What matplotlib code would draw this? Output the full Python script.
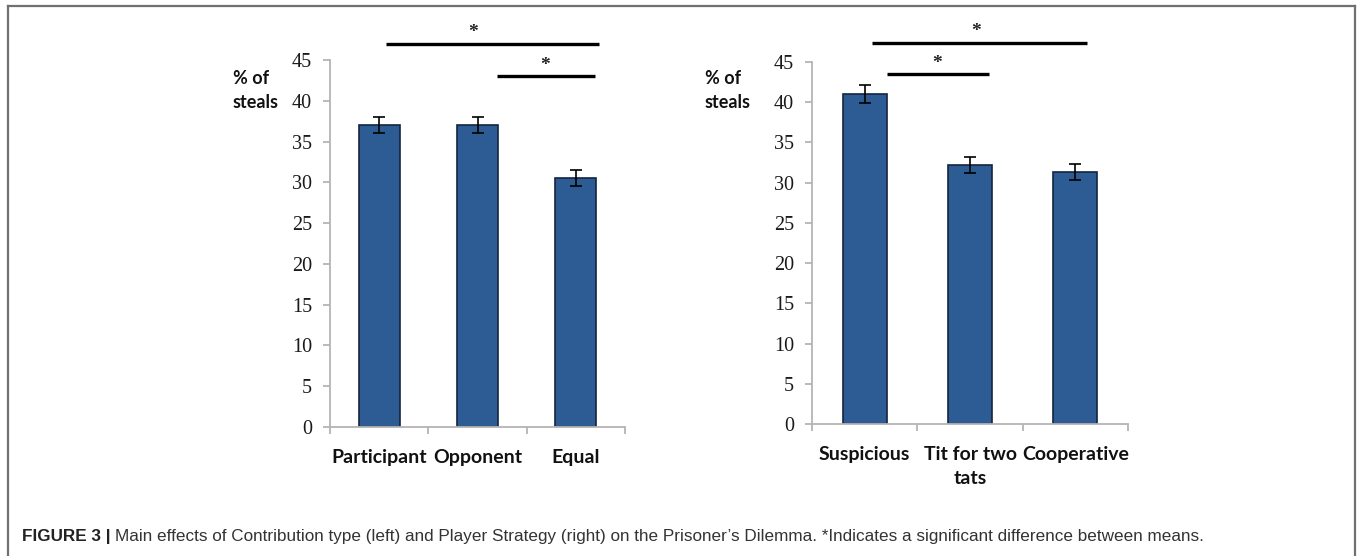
import matplotlib.pyplot as plt
from matplotlib.lines import Line2D

# Left panel: contribution type
left_cats = ['Participant', 'Opponent', 'Equal']
left_vals = [37.0, 37.0, 30.5]
left_err = [1.0, 1.0, 1.0]
# significance bars: (x start, x end, height, star x)
left_sig_x0 = [0.07, 1.20]
left_sig_x1 = [2.24, 2.19]
left_sig_y = [47.0, 43.0]
left_star_x = [0.95, 1.69]

# Right panel: player strategy
right_cats = ['Suspicious', 'Tit for two\ntats', 'Cooperative']
right_vals = [41.0, 32.2, 31.3]
right_err = [1.1, 1.0, 1.0]
right_sig_x0 = [0.07, 0.21]
right_sig_x1 = [2.11, 1.18]
right_sig_y = [47.4, 43.5]
right_star_x = [1.06, 0.69]

yticks = [0, 5, 10, 15, 20, 25, 30, 35, 40, 45]

W, H = 1360, 556
BAR = '#2d5b93'
EDGE = '#14243d'
AXC = '#b4b4b4'


def draw_panel(ax, cats, vals, errs, sx0, sx1, sy, starx):
    x = list(range(len(cats)))
    ax.bar(x, vals, width=0.42, color=BAR, edgecolor=EDGE, linewidth=1.2, zorder=2)
    ax.errorbar(x, vals, yerr=errs, fmt='none', ecolor='black', elinewidth=1.2,
                capsize=4, capthick=1.2, zorder=3)
    ax.set_xlim(-0.5, len(cats) - 0.5)
    ax.set_ylim(0, 45)
    ax.set_yticks(yticks)
    ax.set_xticks(x)
    ax.set_xticklabels(cats, fontfamily='Lato', fontweight='bold', fontsize=14,
                       color='#111111', linespacing=1.5)
    ax.set_xticks([i - 0.5 for i in range(len(cats) + 1)], minor=True)
    ax.tick_params(axis='x', which='major', length=0, pad=16)
    ax.tick_params(axis='x', which='minor', length=5, color=AXC, width=1.3)
    ax.tick_params(axis='y', length=5, color=AXC, width=1.3, pad=8,
                   labelsize=14.5, labelcolor='#1a1a1a')
    for lab in ax.get_yticklabels():
        lab.set_fontfamily('Liberation Serif')
    for s in ['top', 'right']:
        ax.spines[s].set_visible(False)
    for s in ['left', 'bottom']:
        ax.spines[s].set_color(AXC)
        ax.spines[s].set_linewidth(1.3)
    for a, b, y, st in zip(sx0, sx1, sy, starx):
        ax.plot([a, b], [y, y], color='black', lw=2.4, clip_on=False,
                solid_capstyle='butt')
        ax.text(st, y + 0.3, '*', ha='center', va='bottom', fontsize=14,
                fontweight='bold', fontfamily='Liberation Serif', color='#222222',
                clip_on=False)


fig = plt.figure(figsize=(W / 100, H / 100), dpi=100)
fig.patch.set_facecolor('white')

ax1 = fig.add_axes([330 / W, 1 - 427 / H, 295 / W, 367 / H])
ax2 = fig.add_axes([812 / W, 1 - 424 / H, 316 / W, 362 / H])

draw_panel(ax1, left_cats, left_vals, left_err,
           left_sig_x0, left_sig_x1, left_sig_y, left_star_x)
draw_panel(ax2, right_cats, right_vals, right_err,
           right_sig_x0, right_sig_x1, right_sig_y, right_star_x)

# y labels
for px in [233, 705]:
    fig.text(px / W, 1 - 90 / H, '% of\nsteals', ha='left', va='center',
             fontfamily='Lato', fontweight='bold', fontsize=13, color='#111111',
             linespacing=1.5)

# frame around the figure
fc = '#707070'
fig.add_artist(Line2D([8 / W, 8 / W], [0, 1 - 6 / H], color=fc, lw=1.6))
fig.add_artist(Line2D([1355 / W, 1355 / W], [0, 1 - 6 / H], color=fc, lw=1.6))
fig.add_artist(Line2D([8 / W, 1355 / W], [1 - 6 / H, 1 - 6 / H], color=fc, lw=1.6))

# caption
cy = 1 - 537 / H
t = fig.text(22 / W, cy, 'FIGURE 3 |', ha='left', va='center', fontsize=12.3,
             fontfamily='Liberation Sans', fontweight='bold', color='#222222')
fig.canvas.draw()
bb = t.get_window_extent()
fig.text((bb.x1 + 4) / W, cy,
         "Main effects of Contribution type (left) and Player Strategy (right) on the "
         "Prisoner\u2019s Dilemma. *Indicates a significant difference between means.",
         ha='left', va='center', fontsize=12.3, fontfamily='Liberation Sans',
         color='#333333')

fig.savefig('out.png', dpi=100)
